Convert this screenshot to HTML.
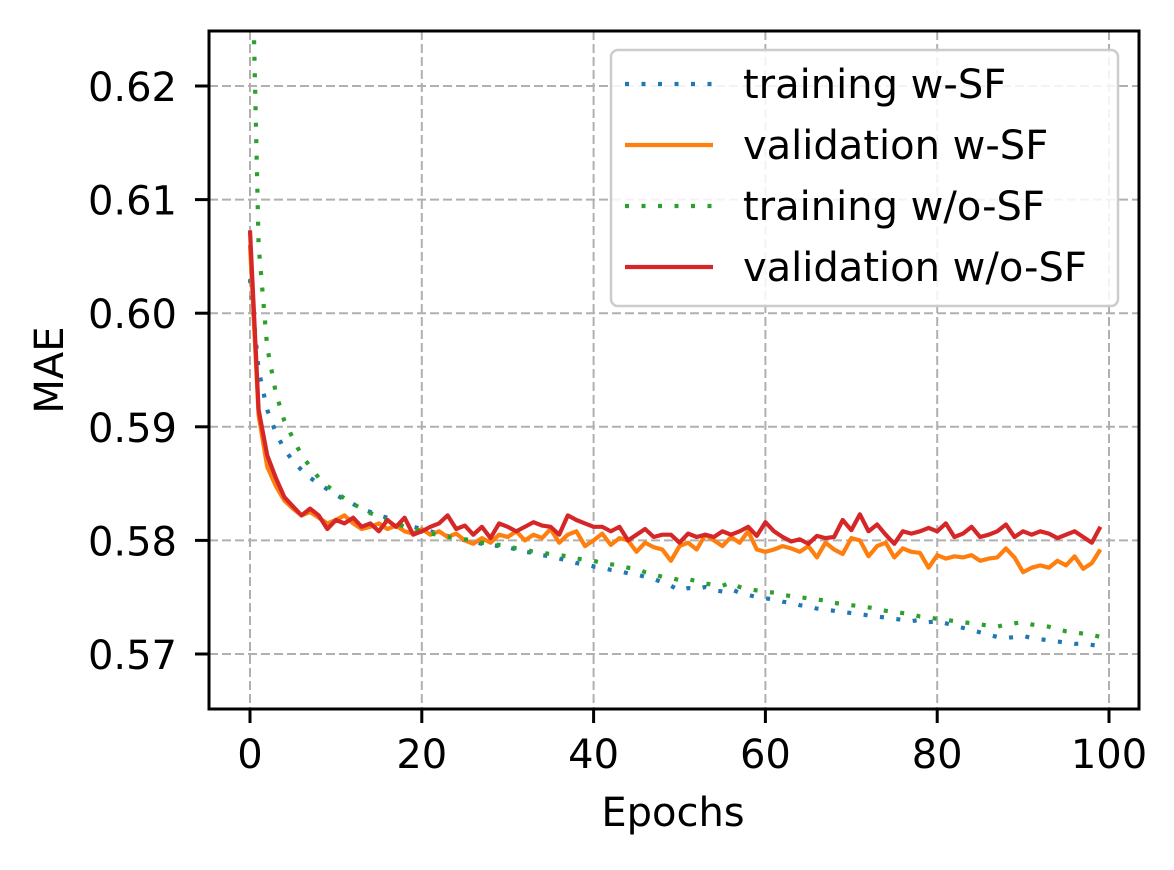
<!DOCTYPE html>
<html><head><meta charset="utf-8">
<style>
html,body{margin:0;padding:0;background:#fff;}
svg text{font-family:"DejaVu Sans","Liberation Sans",sans-serif;fill:#000;}
</style></head>
<body>
<svg id="chart" width="1174" height="865" viewBox="0 0 1174 865" xmlns="http://www.w3.org/2000/svg">
<defs><clipPath id="plotclip"><rect x="209" y="31" width="930" height="678"/></clipPath></defs>
<rect width="1174" height="865" fill="#fff"/>
<g id="grid"></g>
<g id="series" clip-path="url(#plotclip)"></g>
<rect x="209" y="31" width="930" height="678" fill="none" stroke="#000" stroke-width="3"/>
<g id="ticks"></g>
<text x="673" y="826" text-anchor="middle" font-size="40">Epochs</text>
<text transform="translate(63,370) rotate(-90)" text-anchor="middle" font-size="40">MAE</text>
<g id="legend">
<rect x="611" y="50" width="507" height="256" rx="7" fill="#fff" fill-opacity="0.85" stroke="#ccc" stroke-width="2.5"/>
</g>
</svg>
<script>
const xTicks=[0,20,40,60,80,100];
const yTicks=[0.57,0.58,0.59,0.60,0.61,0.62];
const yTickLabels=["0.57","0.58","0.59","0.60","0.61","0.62"];
const seriesNames=["training w-SF","validation w-SF","training w/o-SF","validation w/o-SF"];
const trainWSF=[0.603,0.595,0.5915,0.5895,0.588,0.587,0.5862,0.5855,0.585,0.5845,0.584,0.5836,0.5832,0.5828,0.5825,0.5822,0.582,0.5817,0.5815,0.5812,0.581,0.5808,0.5806,0.5804,0.5802,0.58,0.5799,0.5797,0.5796,0.5795,0.5794,0.5792,0.579,0.5789,0.5787,0.5786,0.5784,0.5782,0.578,0.5779,0.5777,0.5776,0.5774,0.5773,0.5771,0.577,0.5768,0.5766,0.5763,0.576,0.5756,0.5758,0.5757,0.5759,0.5756,0.5755,0.5757,0.5754,0.5752,0.575,0.5749,0.5748,0.5746,0.5745,0.5743,0.5742,0.574,0.5739,0.5738,0.5737,0.5736,0.5735,0.5734,0.5733,0.5732,0.5731,0.573,0.5729,0.573,0.5728,0.5729,0.5727,0.5725,0.5723,0.5721,0.5719,0.5717,0.5715,0.5714,0.5715,0.5716,0.5714,0.5713,0.5712,0.5711,0.571,0.5709,0.5709,0.5708,0.5707];
const valWSF=[0.606,0.591,0.5865,0.5848,0.5835,0.5828,0.5822,0.5825,0.582,0.5815,0.5818,0.5822,0.5815,0.581,0.5812,0.5815,0.581,0.5813,0.5808,0.5806,0.581,0.5805,0.5808,0.5803,0.5806,0.58,0.5797,0.5802,0.5798,0.5805,0.5803,0.5808,0.58,0.5805,0.5802,0.581,0.5798,0.5805,0.5808,0.5795,0.58,0.5806,0.5796,0.5802,0.58,0.579,0.5798,0.5794,0.5792,0.5782,0.5795,0.5798,0.5792,0.5805,0.58,0.5795,0.5803,0.5798,0.5808,0.5792,0.579,0.5792,0.5795,0.5793,0.579,0.5795,0.5785,0.5798,0.5792,0.5788,0.5802,0.58,0.5786,0.5795,0.5798,0.5785,0.5793,0.579,0.5789,0.5776,0.5787,0.5784,0.5786,0.5785,0.5787,0.5782,0.5784,0.5785,0.5793,0.5785,0.5772,0.5776,0.5778,0.5776,0.5782,0.5778,0.5786,0.5775,0.578,0.5792];
const trainWoSF=[0.64,0.606,0.597,0.593,0.5905,0.589,0.5875,0.5865,0.5855,0.5848,0.5842,0.5837,0.5832,0.5828,0.5824,0.5821,0.5818,0.5815,0.5812,0.581,0.5808,0.5806,0.5805,0.5803,0.5802,0.5801,0.58,0.5798,0.5797,0.5796,0.5795,0.5793,0.5792,0.579,0.5789,0.5788,0.5787,0.5786,0.5784,0.5783,0.5782,0.578,0.5779,0.5778,0.5776,0.5775,0.5772,0.577,0.5768,0.5767,0.5765,0.5766,0.5764,0.5762,0.5761,0.576,0.5763,0.5759,0.5757,0.5756,0.5755,0.5754,0.5752,0.5751,0.575,0.5749,0.5748,0.5747,0.5745,0.5744,0.5743,0.5742,0.5741,0.574,0.5738,0.5737,0.5736,0.5735,0.5733,0.5732,0.5731,0.573,0.5729,0.5728,0.5727,0.5726,0.5725,0.5724,0.5726,0.5727,0.5728,0.5726,0.5725,0.5724,0.5722,0.572,0.5719,0.5718,0.5717,0.5715];
const valWoSF=[0.6073,0.5915,0.5875,0.5855,0.5838,0.583,0.5822,0.5828,0.5822,0.581,0.5818,0.5815,0.582,0.5812,0.5815,0.5808,0.5818,0.5812,0.582,0.5805,0.5808,0.5812,0.5815,0.5822,0.581,0.5813,0.5805,0.5812,0.5802,0.5815,0.5812,0.5808,0.5812,0.5816,0.5813,0.5812,0.5805,0.5822,0.5818,0.5815,0.5812,0.5812,0.5808,0.5812,0.58,0.5805,0.581,0.5803,0.5805,0.5805,0.5798,0.5806,0.5803,0.5805,0.5803,0.5808,0.5805,0.5808,0.5812,0.5804,0.5816,0.5808,0.5803,0.5799,0.5801,0.5797,0.5804,0.5802,0.5803,0.5818,0.5809,0.5823,0.5808,0.5814,0.5805,0.5797,0.5808,0.5806,0.5808,0.5811,0.5808,0.5815,0.5803,0.5806,0.5812,0.5803,0.5805,0.5808,0.5814,0.5803,0.5808,0.5805,0.5808,0.5806,0.5802,0.5805,0.5808,0.5803,0.5798,0.5812];

const NS="http://www.w3.org/2000/svg";
const X0=209,X1=1139,Y0=31,Y1=709;
function xs(v){return 250+(v-0)*(1109-250)/100;}
function ys(v){return 654-(v-0.57)*11360;}
function mk(tag,parent){const e=document.createElementNS(NS,tag);parent.appendChild(e);return e;}
const grid=document.getElementById('grid'),ticks=document.getElementById('ticks'),series=document.getElementById('series'),legend=document.getElementById('legend');
xTicks.forEach(t=>{
  const x=xs(t);
  const g=mk('line',grid);
  
  
  g.setAttribute('x1',x);g.setAttribute('x2',x);g.setAttribute('y1',Y0);g.setAttribute('y2',Y1);
  g.setAttribute('stroke','#b0b0b0');g.setAttribute('stroke-width','2');g.setAttribute('stroke-dasharray','9,4');
  const tk=mk('line',ticks);
  
  
  tk.setAttribute('x1',x);tk.setAttribute('x2',x);tk.setAttribute('y1',Y1);tk.setAttribute('y2',Y1+14);tk.setAttribute('stroke','#000');tk.setAttribute('stroke-width','3');
  const tl=mk('text',ticks);
  
  
  tl.setAttribute('x',x);tl.setAttribute('y',768);tl.setAttribute('text-anchor','middle');tl.setAttribute('font-size','40');tl.textContent=String(t);
});
yTicks.forEach((t,i)=>{
  const y=ys(t);
  const g=mk('line',grid);
  
  
  g.setAttribute('x1',X0);g.setAttribute('x2',X1);g.setAttribute('y1',y);g.setAttribute('y2',y);
  g.setAttribute('stroke','#b0b0b0');g.setAttribute('stroke-width','2');g.setAttribute('stroke-dasharray','9,4');
  const tk=mk('line',ticks);
  
  
  tk.setAttribute('x1',X0-14);tk.setAttribute('x2',X0);tk.setAttribute('y1',y);tk.setAttribute('y2',y);tk.setAttribute('stroke','#000');tk.setAttribute('stroke-width','3');
  const tl=mk('text',ticks);
  
  
  tl.setAttribute('x',177);tl.setAttribute('y',y+15);tl.setAttribute('text-anchor','end');tl.setAttribute('font-size','40');tl.textContent=yTickLabels[i];
});
const all=[[trainWSF,'#1f77b4','4,12.5','training-w-sf-line'],[valWSF,'#ff7f0e','','validation-w-sf-line'],[trainWoSF,'#2ca02c','4,12.5','training-wo-sf-line'],[valWoSF,'#d62728','','validation-wo-sf-line']];
all.forEach(([d,c,dash,name],k)=>{
  const p=mk('polyline',series);
  
  
  p.setAttribute('points',d.map((v,i)=>xs(i).toFixed(1)+','+ys(v).toFixed(1)).join(' '));
  p.setAttribute('fill','none');p.setAttribute('stroke',c);p.setAttribute('stroke-width','4.2');p.setAttribute('stroke-linejoin','round');
  if(dash)p.setAttribute('stroke-dasharray',dash);
  const ly=84+k*61;
  const ll=mk('line',legend);
  
  
  ll.setAttribute('x1',625);ll.setAttribute('x2',713);ll.setAttribute('y1',ly);ll.setAttribute('y2',ly);
  ll.setAttribute('stroke',c);ll.setAttribute('stroke-width','4.2');if(dash)ll.setAttribute('stroke-dasharray',dash);
  const lt=mk('text',legend);
  
  
  lt.setAttribute('x',743);lt.setAttribute('y',ly+14);lt.setAttribute('font-size','40');lt.textContent=seriesNames[k];
});
</script>
</body></html>
